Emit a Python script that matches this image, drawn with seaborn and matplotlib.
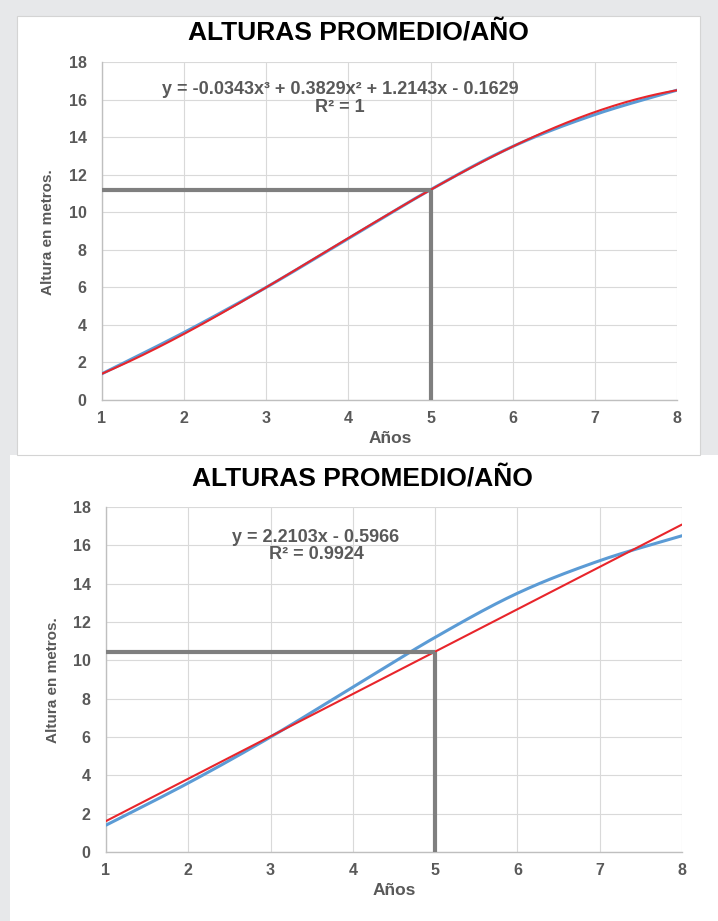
import numpy as np
import pandas as pd
import seaborn as sns
import matplotlib.pyplot as plt
from matplotlib.patches import Rectangle

# data
anios = [1, 2, 3, 4, 5, 6, 7, 8]
alturas = [1.4, 3.6, 6.0, 8.6, 11.2, 13.5, 15.2, 16.5]

# trend line coefficients as printed on the chart
coef_cubica = [-0.0343, 0.3829, 1.2143, -0.1629]
coef_lineal = [2.2103, -0.5966]
eq_cubica = "y = -0.0343x³ + 0.3829x² + 1.2143x - 0.1629"
r2_cubica = "R² = 1"
eq_lineal = "y = 2.2103x - 0.5966"
r2_lineal = "R² = 0.9924"

titulo = "ALTURAS PROMEDIO/AÑO"
etiqueta_x = "Años"
etiqueta_y = "Altura en metros."
y_ticks = [0, 2, 4, 6, 8, 10, 12, 14, 16, 18]

AZUL = "#5b9bd5"
ROJO = "#e8252b"
GRIS = "#7f7f7f"
TXT = "#595959"

W, H = 718, 921

sns.set_theme(style="whitegrid")
plt.rcParams["font.family"] = ["Liberation Sans", "DejaVu Sans"]


def px(x, y):
    return x / W, 1 - y / H


def suave(x, y, n=30):
    # Catmull-Rom smoothing, like Excel's "smoothed line"
    x = np.asarray(x, float)
    y = np.asarray(y, float)
    p = np.column_stack([x, y])
    p = np.vstack([p[0], p, p[-1]])
    out = []
    for i in range(1, len(p) - 2):
        p0, p1, p2, p3 = p[i - 1], p[i], p[i + 1], p[i + 2]
        t = np.linspace(0, 1, n, endpoint=False)[:, None]
        c = 0.5 * ((2 * p1) + (-p0 + p2) * t + (2 * p0 - 5 * p1 + 4 * p2 - p3) * t ** 2
                   + (-p0 + 3 * p1 - 3 * p2 + p3) * t ** 3)
        out.append(c)
    out.append(p[-2][None, :])
    out = np.vstack(out)
    return out[:, 0], out[:, 1]


fig = plt.figure(figsize=(W / 100, H / 100), dpi=100, facecolor="#e7e8ea")

# white panels behind the charts
fig.patches.append(Rectangle(px(10, 921), 708 / W, 466 / H, transform=fig.transFigure,
                             facecolor="white", edgecolor="none", zorder=-10))
fig.patches.append(Rectangle(px(17, 455), 683 / W, 439 / H, transform=fig.transFigure,
                             facecolor="white", edgecolor="#d4d4d4", lw=0.8, zorder=-9))

paneles = [
    dict(box=(102, 400, 677, 62), coef=coef_cubica, eq=eq_cubica, r2=r2_cubica,
         eqpos=(340, 90), title=(358, 33), ylab=(48, 232), xlab=(390, 438)),
    dict(box=(106, 852, 682, 507), coef=coef_lineal, eq=eq_lineal, r2=r2_lineal,
         eqpos=(316, 537), title=(362, 478), ylab=(53, 680), xlab=(394, 890)),
]

xs, ys = suave(anios, alturas)
xg = np.linspace(1, 8, 200)

for p in paneles:
    l, b, r, t = p["box"]
    ax = fig.add_axes([l / W, 1 - b / H, (r - l) / W, (b - t) / H])
    ax.set_facecolor("none")

    sns.lineplot(x=xs, y=ys, ax=ax, color=AZUL, lw=2.2, sort=False, estimator=None, zorder=3)
    yfit = np.polyval(p["coef"], xg)
    sns.lineplot(x=xg, y=yfit, ax=ax, color=ROJO, lw=1.5, sort=False, estimator=None, zorder=4)

    y5 = np.polyval(p["coef"], 5)
    ax.plot([1, 5], [y5, y5], color=GRIS, lw=3.0, zorder=5, solid_capstyle="butt")
    ax.plot([5, 5], [0, y5], color=GRIS, lw=3.0, zorder=5, solid_capstyle="butt")

    ax.set_xlim(1, 8)
    ax.set_ylim(0, 18)
    ax.set_xticks(anios)
    ax.set_yticks(y_ticks)
    ax.grid(True, color="#d9d9d9", lw=0.8)
    for s in ["top", "right"]:
        ax.spines[s].set_visible(False)
    for s in ["left", "bottom"]:
        ax.spines[s].set_color("#bfbfbf")
        ax.spines[s].set_linewidth(1.0)
    ax.tick_params(axis="both", length=0, labelsize=11.5, labelcolor=TXT)
    ax.tick_params(axis="x", pad=8)
    ax.tick_params(axis="y", pad=11)
    for lab in ax.get_xticklabels() + ax.get_yticklabels():
        lab.set_fontweight("bold")
    ax.set_xlabel("")
    ax.set_ylabel("")

    ex, ey = p["eqpos"]
    fig.text(*px(ex, ey), p["eq"], ha="center", va="center", fontsize=13,
             fontweight="bold", color=TXT)
    fig.text(*px(ex, ey + 17), p["r2"], ha="center", va="center", fontsize=13,
             fontweight="bold", color=TXT)
    fig.text(*px(*p["title"]), titulo, ha="center", va="center", fontsize=19,
             fontweight="bold", color="black")
    fig.text(*px(*p["ylab"]), etiqueta_y, ha="center", va="center", rotation=90,
             fontsize=11, fontweight="bold", color=TXT)
    fig.text(*px(*p["xlab"]), etiqueta_x, ha="center", va="center", fontsize=12.5,
             fontweight="bold", color=TXT)

fig.savefig("out.png", dpi=100, facecolor=fig.get_facecolor())
